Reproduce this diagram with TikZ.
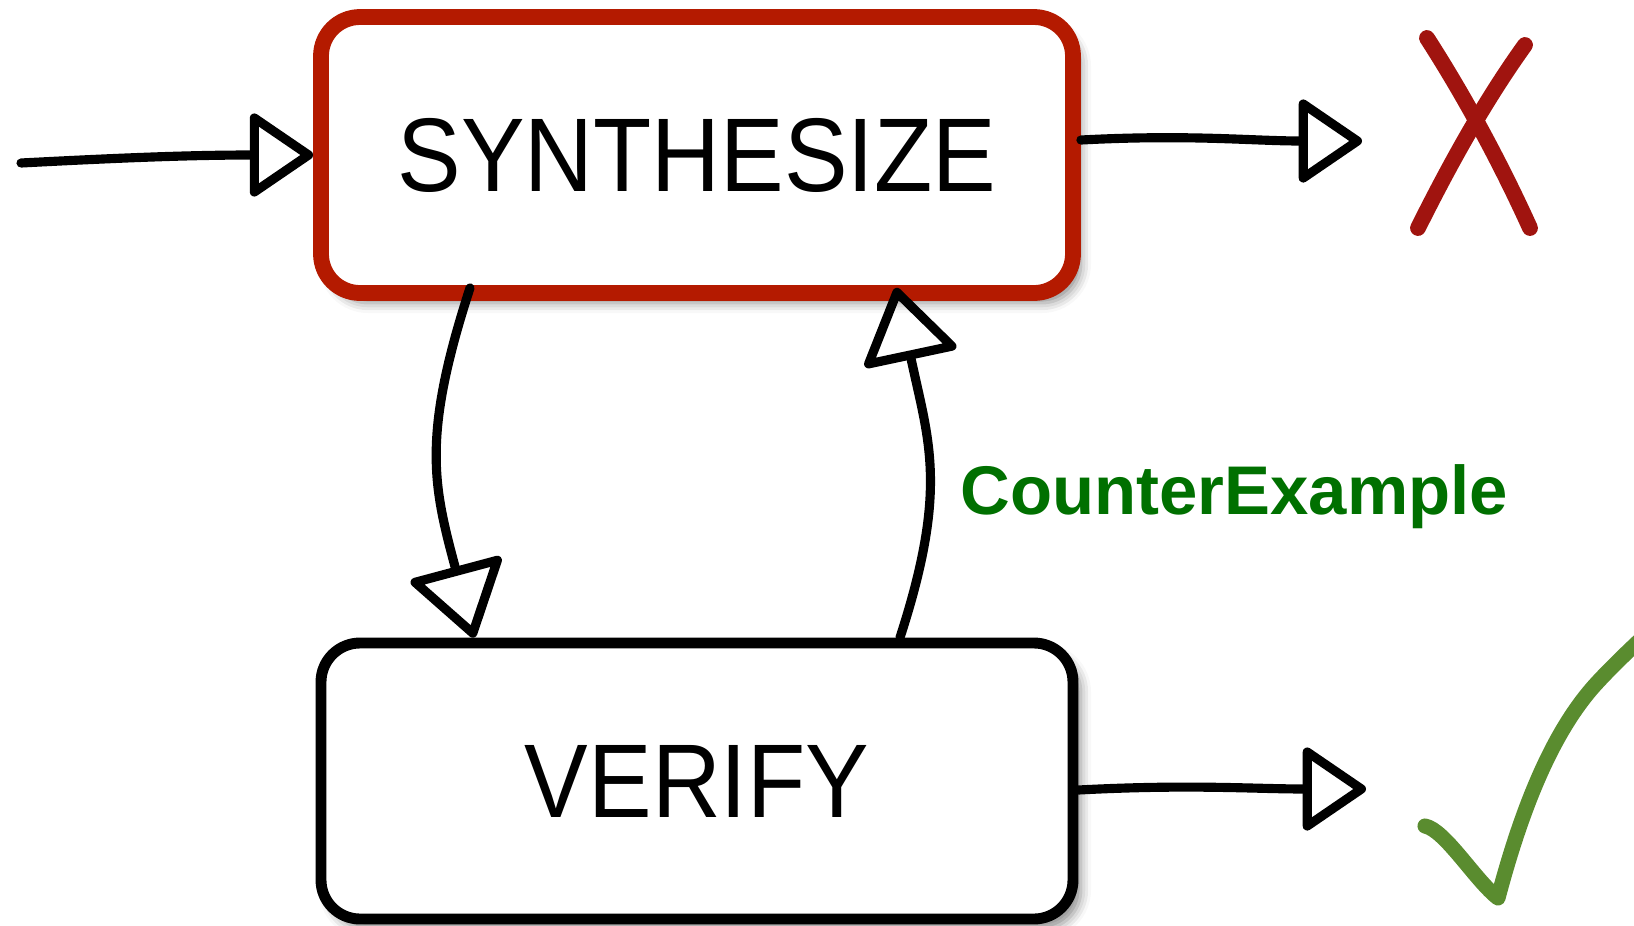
\documentclass[tikz,border=0pt]{standalone}
\usepackage{fontspec}
\setmainfont{Liberation Sans}
\newfontfamily\boxfont[FakeStretch=0.91]{Liberation Sans}
\usepackage{tikz}
\usetikzlibrary{arrows.meta,positioning,shadows.blur,calc}
\definecolor{SynRed}{RGB}{180,26,0}
\definecolor{CrossRed}{RGB}{160,20,15}
\definecolor{TickGreen}{RGB}{90,140,47}
\definecolor{CEgreen}{RGB}{0,112,0}
\tikzset{
  cg/box/.style={draw, rounded corners=3.9mm, line width=3.1pt, fill=white,
    minimum width=75.2mm, minimum height=27.6mm, inner sep=0pt, align=center,
    font=\boxfont\fontsize{29.8}{31}\selectfont,
    blur shadow={shadow xshift=0.8mm, shadow yshift=-1mm, shadow blur radius=1mm, shadow opacity=45}},
  cg/synbox/.style={cg/box, draw=SynRed, line width=4.5pt},
  cg/arr/.style={line width=2.6pt, line cap=round, -{Triangle[open, length=6.7mm, width=8.9mm, round]}},
  cg/loop/.style={cg/arr, -{Triangle[open, length=7.7mm, width=10mm, round]}},
  cg/label/.style={font=\bfseries\fontsize{19.6}{22}\selectfont, text=CEgreen, inner sep=0pt},
  cg/mark/.style={line width=4.5pt, line cap=round, line join=round}
}

\begin{document}
\begin{tikzpicture}[x=0.1mm, y=-0.1mm]
  \useasboundingbox (0,0) rectangle (1634,925);

  \node[cg/synbox] (syn) at (697,155) {SYNTHESIZE};
  \node[cg/box] (ver) at (697,781) {VERIFY};

  \coordinate (in) at (21,163);
  \coordinate (fail) at (1362,141);
  \coordinate (pass) at (1366,789);

  \draw[cg/arr] (in) to[out=3, in=180] (syn.west);
  \draw[cg/arr] ([yshift=0.15cm]syn.east) to[out=3, in=180] (fail);
  \draw[cg/arr] ([yshift=-0.09cm]ver.east) to[out=3, in=180] (pass);

  % loop between the two boxes
  \draw[cg/loop] ([xshift=-2.27cm,yshift=0.13cm]syn.south) to[out=-108, in=105, looseness=1.15] ([xshift=-2.23cm]ver.north);
  \draw[cg/loop] ([xshift=2.03cm]ver.north) to[out=72, in=-78, looseness=1.15] ([xshift=1.99cm,yshift=0.13cm]syn.south);
  \node[cg/label, anchor=base west] (cex) at (960,514) {CounterExample};

  % cross
  \draw[cg/mark, CrossRed] (1427,38) .. controls (1465,97) and (1501,164) .. (1530,228);
  \draw[cg/mark, CrossRed] (1525,45) .. controls (1484,102) and (1449,166) .. (1418,228);

  % tick
  \begin{scope}
    \clip (0,0) rectangle (1634,925);
    \draw[cg/mark, TickGreen, line width=4.3pt] (1425,826) .. controls (1445,830) and (1475,880) .. (1498,898)
      .. controls (1520,815) and (1550,735) .. (1595,685) .. controls (1615,663) and (1640,640) .. (1670,612);
  \end{scope}
\end{tikzpicture}
\end{document}
